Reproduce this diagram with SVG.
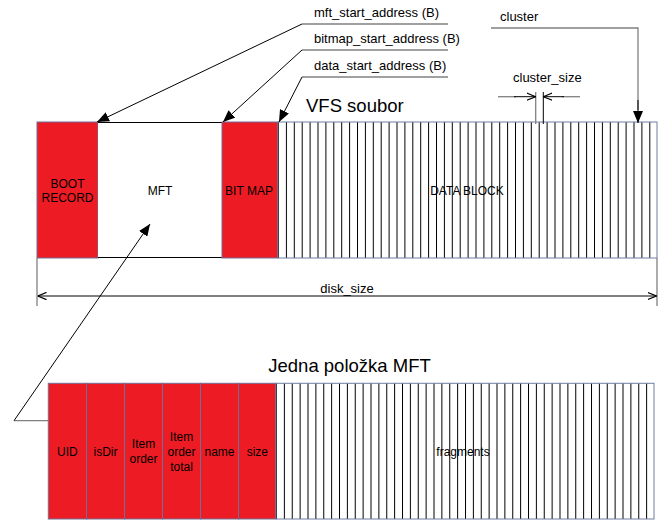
<svg xmlns="http://www.w3.org/2000/svg" width="672" height="530" viewBox="0 0 672 530">
<style>
text{font-family:"Liberation Sans",Arial,sans-serif;fill:#000;}
.lbl{font-size:12px;text-anchor:middle;}
.ann{font-size:13px;}
.red{fill:#ED1C24;stroke:#6E6E96;stroke-width:1;}
.grid{stroke:#000;stroke-width:1;}
.lead{stroke:#000;stroke-width:1;fill:none;}
.gray{stroke:#808080;stroke-width:1.3;fill:none;}
</style>
<defs>
<marker id="fa" viewBox="0 0 12 10" refX="12" refY="5" markerWidth="12" markerHeight="10" markerUnits="userSpaceOnUse" orient="auto"><path d="M0,0 L12,5 L0,10 Z" fill="#000"/></marker>
<marker id="oa" viewBox="0 0 10 10" refX="10" refY="5" markerWidth="9" markerHeight="9" markerUnits="userSpaceOnUse" orient="auto"><path d="M0,1 L10,5 L0,9" fill="none" stroke="#000" stroke-width="1.3"/></marker>
<pattern id="vl" x="278" y="0" width="7.9" height="10" patternUnits="userSpaceOnUse"><rect width="7.9" height="10" fill="#fff"/><line x1="0.5" y1="0" x2="0.5" y2="10" stroke="#000" stroke-width="1"/></pattern>
<pattern id="vl2" x="276" y="0" width="7.875" height="10" patternUnits="userSpaceOnUse"><rect width="7.875" height="10" fill="#fff"/><line x1="0.5" y1="0" x2="0.5" y2="10" stroke="#000" stroke-width="1"/></pattern>
</defs>

<text x="306" y="112" style="font-size:18.5px">VFS soubor</text>
<text x="349.5" y="372" style="font-size:18.5px;text-anchor:middle">Jedna položka MFT</text>

<g id="boot"><rect class="red" x="37" y="122" width="61" height="136"/><text class="lbl" x="67.5" y="188">BOOT</text><text class="lbl" x="67.5" y="202">RECORD</text></g>
<g id="mft"><rect x="98" y="122" width="124" height="136" fill="#fff"/><line x1="98" y1="122.5" x2="222" y2="122.5" stroke="#000"/><line x1="98" y1="257.5" x2="222" y2="257.5" stroke="#000"/><text class="lbl" x="160" y="195">MFT</text></g>
<g id="bitmap"><rect class="red" x="222" y="122" width="56" height="136"/><text class="lbl" x="249" y="195">BIT MAP</text></g>
<g id="datablock"><rect x="278" y="122" width="379" height="136" fill="url(#vl)" stroke="#6E7FA0"/><text class="lbl" x="467" y="195">DATA BLOCK</text></g>

<g id="uid"><rect class="red" x="48.3" y="383.3" width="38.2" height="135.7"/><text class="lbl" x="67.4" y="456">UID</text></g>
<g id="isdir"><rect class="red" x="86.5" y="383.3" width="38" height="135.7"/><text class="lbl" x="105.5" y="456">isDir</text></g>
<g id="itemorder"><rect class="red" x="124.5" y="383.3" width="38" height="135.7"/><text class="lbl" x="143.5" y="448">Item</text><text class="lbl" x="143.5" y="463">order</text></g>
<g id="itemordertotal"><rect class="red" x="162.5" y="383.3" width="38" height="135.7"/><text class="lbl" x="181.5" y="441">Item</text><text class="lbl" x="181.5" y="456">order</text><text class="lbl" x="181.5" y="471">total</text></g>
<g id="name"><rect class="red" x="200.5" y="383.3" width="38" height="135.7"/><text class="lbl" x="219.5" y="456">name</text></g>
<g id="size"><rect class="red" x="238.5" y="383.3" width="37.5" height="135.7"/><text class="lbl" x="257.3" y="456">size</text></g>
<g id="fragments"><rect x="276" y="383.3" width="378" height="135.7" fill="url(#vl2)" stroke="#6E7FA0"/><text class="lbl" x="463" y="456">fragments</text></g>

<g id="labels">
<text class="ann" x="314" y="17">mft_start_address (B)</text>
<text class="ann" x="314" y="43">bitmap_start_address (B)</text>
<text class="ann" x="314" y="70">data_start_address (B)</text>
<text class="ann" x="500" y="21">cluster</text>
<text class="ann" x="513" y="82">cluster_size</text>
<text class="ann" x="347" y="293" style="text-anchor:middle">disk_size</text>
</g>

<g id="connectors">
<line class="gray" x1="302" y1="24" x2="448" y2="24"/>
<line class="gray" x1="302" y1="50" x2="448" y2="50"/>
<line class="gray" x1="302" y1="77" x2="448" y2="77"/>
<line class="lead" x1="302" y1="24" x2="97" y2="122" marker-end="url(#fa)"/>
<line class="lead" x1="302" y1="50" x2="223" y2="122" marker-end="url(#fa)"/>
<line class="lead" x1="302" y1="77" x2="279" y2="122" marker-end="url(#fa)"/>
<polyline class="gray" points="491,28 638,28 638,110"/>
<line class="lead" x1="638" y1="100" x2="638" y2="123" marker-end="url(#fa)"/>
<line class="gray" x1="535.7" y1="92" x2="535.7" y2="124"/>
<line class="lead" x1="543.3" y1="92" x2="543.3" y2="124"/>
<line class="gray" x1="498" y1="96.7" x2="516" y2="96.7"/>
<line class="lead" x1="514" y1="96.7" x2="535.7" y2="96.7" marker-end="url(#oa)"/>
<line class="gray" x1="562" y1="96.7" x2="580" y2="96.7"/>
<line class="lead" x1="564" y1="96.7" x2="543.3" y2="96.7" marker-end="url(#oa)"/>
<line class="gray" x1="37" y1="258" x2="37" y2="306"/>
<line class="gray" x1="657" y1="258" x2="657" y2="306"/>
<line class="lead" x1="347" y1="296" x2="37.5" y2="296" marker-end="url(#oa)"/>
<line class="lead" x1="347" y1="296" x2="656.5" y2="296" marker-end="url(#oa)"/>
<line class="gray" x1="14" y1="420.7" x2="48" y2="420.7"/>
<line class="lead" x1="14" y1="420.7" x2="150" y2="224" marker-end="url(#fa)"/>
</g>
</svg>
